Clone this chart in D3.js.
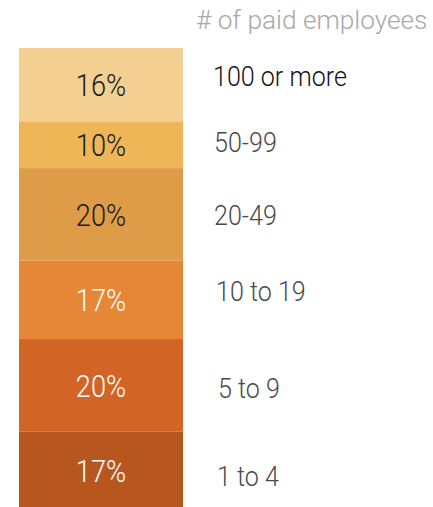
<!DOCTYPE html>
<html>
<head>
<meta charset="utf-8">
<script src="https://cdn.jsdelivr.net/npm/d3@7"></script>
<style>
  html, body { margin: 0; padding: 0; background: #fff; }
  svg { display: block; }
  text { font-family: "Roboto", "Liberation Sans", sans-serif; font-weight: 300; }
</style>
</head>
<body>
<svg id="chart" width="433" height="507"></svg>
<script>
// Share of firms by number of paid employees (top to bottom of the stack)
const sizeBands = ["100 or more", "50-99", "20-49", "10 to 19", "5 to 9", "1 to 4"];
const shares = [16, 10, 20, 17, 20, 17];
const title = "# of paid employees";

// Styling per band
const fills = ["#F3CF91", "#EFB657", "#DF9C48", "#E58737", "#D26426", "#B85620"];
const valueInk = ["#1a1a1a", "#1a1a1a", "#1a1a1a", "#ffffff", "#ffffff", "#ffffff"];
const bandInk = ["#111111", "#4a4a4a", "#4a4a4a", "#4a4a4a", "#4a4a4a", "#4a4a4a"];
// small hand placement tweaks for the side labels [dx, dy]
const bandNudge = [[-1, -9.5], [0, -3.5], [0, 1], [2, -8.5], [4, 3], [3, 5.5]];

const svg = d3.select("#chart");
const barLeft = 19, barRight = 183, barTop = 48, barBottom = 510;

const y = d3.scaleLinear().domain([0, d3.sum(shares)]).range([barTop, barBottom]);
const x = d3.scaleBand().domain(["all"]).range([barLeft, barRight]).padding(0);

const stack = d3.stack().keys(sizeBands)([Object.fromEntries(sizeBands.map((b, i) => [b, shares[i]]))]);
const rows = sizeBands.map((band, i) => ({ band, value: shares[i], i, y0: stack[i][0][0], y1: stack[i][0][1] }));
const mid = d => (y(d.y0) + y(d.y1)) / 2;

// condensed look: narrow the glyphs horizontally around the anchor point
const squeeze = (sel, sx) => sel.attr("transform", function () {
  const t = d3.select(this);
  return `translate(${t.attr("data-x")},${t.attr("data-y")}) scale(${sx},1)`;
});

const seg = svg.append("g").selectAll("g").data(rows).join("g");

seg.append("rect")
  .attr("x", x("all"))
  .attr("width", x.bandwidth())
  .attr("y", d => y(d.y0))
  .attr("height", d => y(d.y1) - y(d.y0))
  .attr("fill", d => fills[d.i]);

const pctSize = 32;
seg.append("text")
  .attr("data-x", x("all") + x.bandwidth() / 2)
  .attr("data-y", d => mid(d) + 0.355 * pctSize)
  .attr("text-anchor", "middle")
  .attr("font-size", pctSize)
  .attr("fill", d => valueInk[d.i])
  .text(d => d.value + "%")
  .call(squeeze, 0.85);

const bandSize = 28.5;
seg.append("text")
  .attr("data-x", d => 214 + bandNudge[d.i][0])
  .attr("data-y", d => mid(d) + bandNudge[d.i][1] + 0.355 * bandSize)
  .attr("font-size", bandSize)
  .attr("fill", d => bandInk[d.i])
  .text(d => d.band)
  .call(squeeze, 0.88);

svg.append("text")
  .attr("data-x", 196)
  .attr("data-y", 29.3)
  .attr("font-size", 26.5)
  .attr("fill", "#a8a8a8")
  .text(title)
  .call(squeeze, 0.99);
</script>
</body>
</html>
